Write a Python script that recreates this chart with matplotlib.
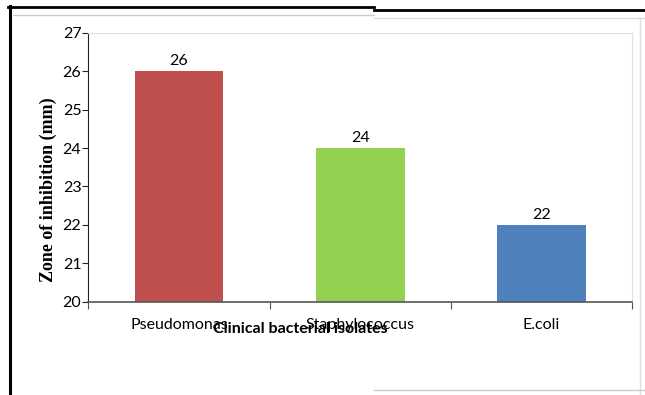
import matplotlib.pyplot as plt
from matplotlib.lines import Line2D

# data
isolates = ["Pseudomonas", "Staphylococcus", "E.coli"]
zones = [26, 24, 22]
bar_colors = ["#C0504D", "#92D050", "#4F81BD"]
y_ticks = [20, 21, 22, 23, 24, 25, 26, 27]

LABEL_FONT = "Lato"

fig = plt.figure(figsize=(6.45, 3.95), dpi=100)
ax = fig.add_axes([0.137, 0.236, 0.843, 0.681])

x = list(range(len(isolates)))
ax.bar(x, [z - 20 for z in zones], bottom=20, width=0.49, color=bar_colors)
for xi, z in zip(x, zones):
    ax.text(xi, z + 0.08, str(z), ha="center", va="bottom",
            fontsize=11.5, family=LABEL_FONT)

ax.set_xlim(-0.5, len(isolates) - 0.5)
ax.set_ylim(20, 27)
ax.set_yticks(y_ticks)
ax.set_yticklabels([str(t) for t in y_ticks], family=LABEL_FONT, fontsize=11.5)

# category boundaries carry the tick marks, labels sit in the middle
ax.set_xticks([-0.5, 0.5, 1.5, 2.5])
ax.set_xticklabels([])
ax.set_xticks(x, minor=True)
ax.set_xticklabels(isolates, minor=True, family=LABEL_FONT, fontsize=11.5)
ax.tick_params(axis="x", which="minor", length=0, pad=12)
ax.tick_params(axis="x", which="major", length=5, color="#555555", direction="out")
ax.tick_params(axis="y", length=4, color="#222222", direction="out", pad=1)

for side in ("top", "right"):
    ax.spines[side].set_color("#e0e0e0")
    ax.spines[side].set_linewidth(0.8)
ax.spines["left"].set_color("#222222")
ax.spines["bottom"].set_color("#555555")
ax.spines["bottom"].set_linewidth(1.2)

ax.set_ylabel("Zone of inhibition (mm)", family="Liberation Serif",
              fontweight="bold", fontsize=13)
ax.yaxis.set_label_coords(-0.058, 0.416)
ax.set_xlabel("Clinical bacterial isolates", family=LABEL_FONT,
              fontweight="bold", fontsize=11.5)
ax.xaxis.set_label_coords(0.39, -0.075)

# frame lines of the screenshot
fig.add_artist(Line2D([0.015, 0.015], [0.0, 0.985], color="black", lw=2.2))
fig.add_artist(Line2D([0.013, 0.58], [0.982, 0.982], color="black", lw=2.0))
fig.add_artist(Line2D([0.58, 1.0], [0.975, 0.975], color="black", lw=2.0))
fig.add_artist(Line2D([0.02, 0.58], [0.962, 0.962], color="#cccccc", lw=1.0))
fig.add_artist(Line2D([0.58, 1.0], [0.955, 0.955], color="#dddddd", lw=1.0))
fig.add_artist(Line2D([0.993, 0.993], [0.0, 0.955], color="#dddddd", lw=1.0))
fig.add_artist(Line2D([0.58, 1.0], [0.012, 0.012], color="#cccccc", lw=1.0))

fig.savefig("out.png", dpi=100)
